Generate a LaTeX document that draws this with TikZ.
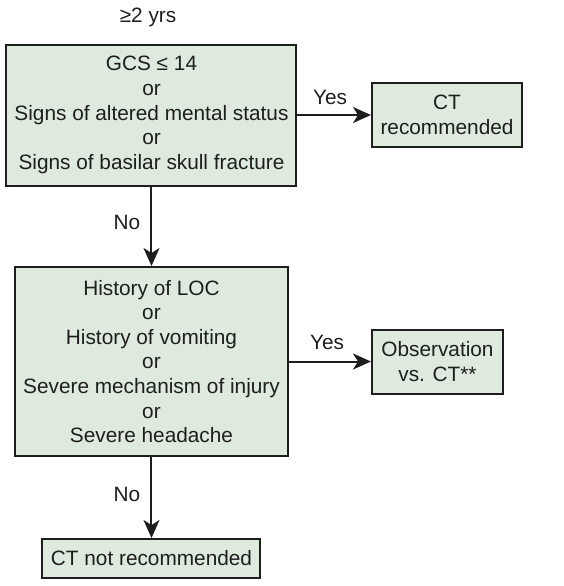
\documentclass[tikz,border=0pt]{standalone}
\usepackage{fontspec}
\setmainfont{Liberation Sans}
\usetikzlibrary{positioning,arrows.meta}
\definecolor{boxgreen}{RGB}{221,234,221}
\definecolor{linegray}{RGB}{30,30,30}

\begin{document}
\begin{tikzpicture}[x=0.5pt,y=-0.5pt,
  every node/.style={font=\fontsize{10.4}{12.3}\selectfont,text=linegray},
  Qbox/.style={draw=linegray,line width=1pt,fill=boxgreen,align=center,inner sep=0pt},
  Abox/.style={draw=linegray,line width=1pt,fill=boxgreen,align=center,inner sep=0pt},
  Alabel/.style={inner sep=1pt},
  ->/.tip={Stealth[length=9pt,width=8pt,inset=2.5pt]},
  line width=1pt,draw=linegray
]
\useasboundingbox (0,0) rectangle (564,586);

% the question boxes
\node[Qbox,minimum width=145pt,minimum height=70.5pt] (Q1) at (151.5,115)
  {GCS ≤ 14\\or\\Signs of altered mental status\\or\\Signs of basilar skull fracture};
\node[Qbox,minimum width=136.5pt,minimum height=94.5pt] (Q2) at (151.5,361.5)
  {History of LOC\\or\\History of vomiting\\or\\Severe mechanism of injury\\or\\Severe headache};

% the answer boxes
\node[Abox,minimum width=75pt,minimum height=32pt] (Ayes1) at (447,115) {CT\\recommended};
\node[Abox,minimum width=65.5pt,minimum height=32pt] (Ayes2) at (437.5,361.5) {Observation\\vs. CT**};
\node[Abox,minimum width=109pt,minimum height=19.5pt] (Ano) at (151.5,558.5) {CT not recommended};

% the age
\node (age) at (148,17) {≥2 yrs};

% the edges
\draw [->] (Q1) -- (Ayes1);
\draw [->] (Q1) -- (Q2);
\draw [->] (Q2) -- (Ayes2);
\draw [->] (Q2) -- (Ano);

%label answers
\node[Alabel] (y1) at (330,97) {Yes};
\node[Alabel] (n1) at (127,222) {No};
\node[Alabel] (y2) at (327,342) {Yes};
\node[Alabel] (n2) at (127,494) {No};

\end{tikzpicture}
\end{document}
